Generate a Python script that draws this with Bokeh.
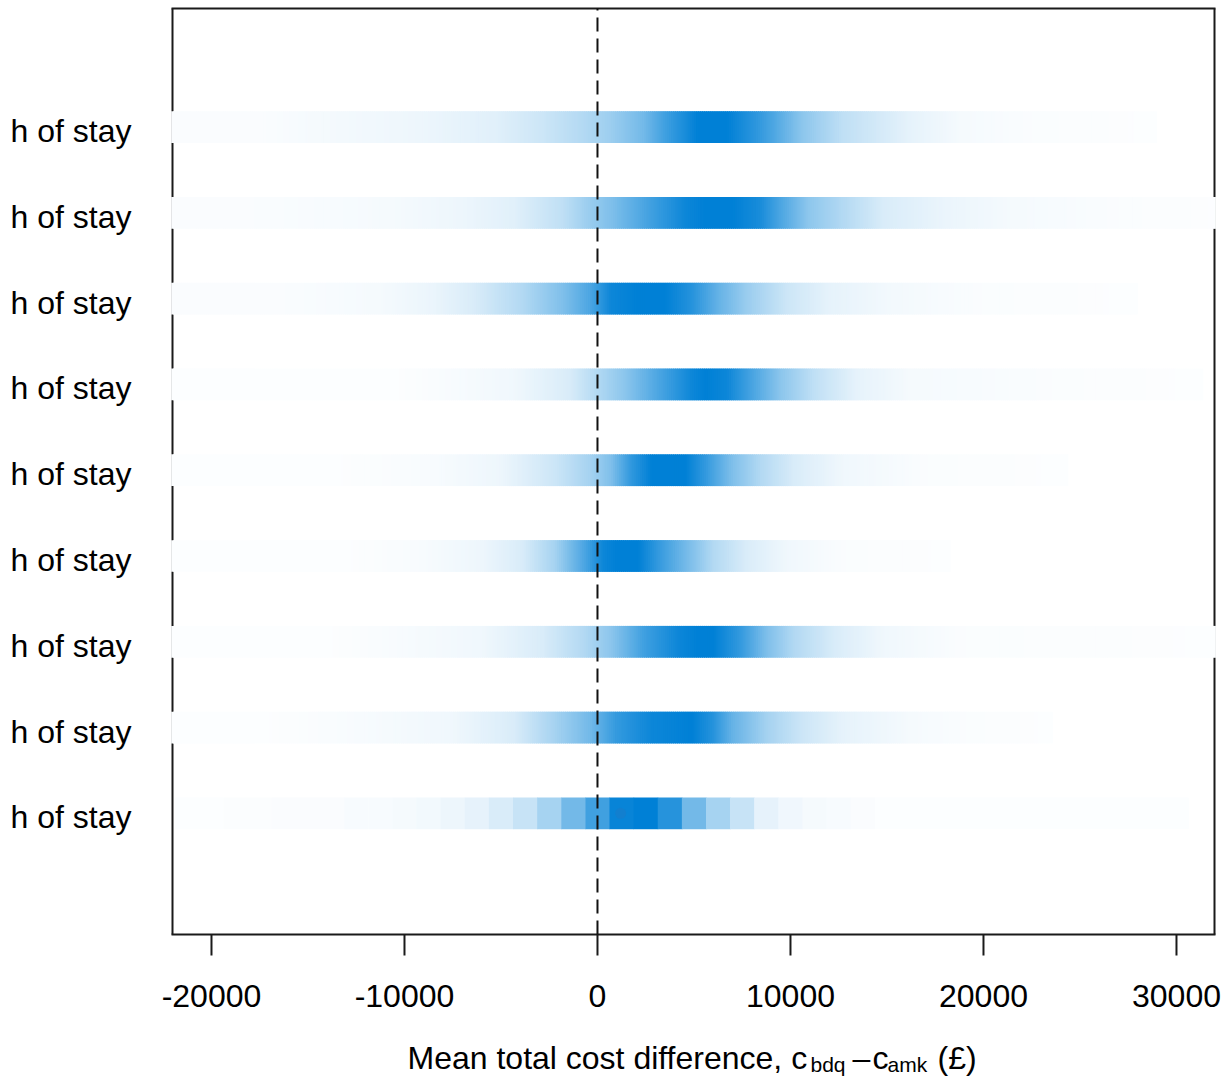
import numpy as np
from bokeh.plotting import figure
from bokeh.models import Range1d, ColumnDataSource
from bokeh.core.properties import value
from bokeh.embed import file_html
from bokeh.resources import INLINE

# ---------------- data ----------------
ROW_LABELS = ["h of stay"] * 9
ROW_POS = [9, 8, 7, 6, 5, 4, 3, 2, 1]          # top to bottom
X_TICKS = [-20000, -10000, 0, 10000, 20000, 30000]
X_TICK_LABELS = ["-20000", "-10000", "0", "10000", "20000", "30000"]

# density strips (top to bottom): cost difference knots (GBP) and relative density
S1_X = [-23000, -17400, -14500, -9200, -5300, -2850, -700, 600, 2400, 3500, 5200, 6700, 8400, 9100, 10600, 12700, 16200, 18800, 22300, 29000]
S1_D = [0.02, 0.02, 0.04, 0.07, 0.12, 0.2, 0.3, 0.38, 0.55, 0.75, 1.0, 1.0, 0.8, 0.7, 0.45, 0.25, 0.1, 0.04, 0.02, 0.01]
S2_X = [-23000, -18400, -10600, -7100, -4300, -1800, -400, 700, 2800, 4550, 5600, 7000, 8450, 9500, 10900, 12700, 14800, 18000, 21500, 26800, 33000]
S2_D = [0.02, 0.02, 0.04, 0.07, 0.12, 0.25, 0.4, 0.5, 0.75, 0.95, 1.0, 1.0, 0.9, 0.7, 0.45, 0.3, 0.15, 0.08, 0.04, 0.02, 0.01]
S3_X = [-23000, -16600, -11300, -8500, -6400, -3900, -1800, -400, 700, 2100, 3500, 4900, 6300, 7700, 9800, 12000, 15100, 19700, 28000]
S3_D = [0.02, 0.02, 0.04, 0.08, 0.15, 0.3, 0.5, 0.7, 0.95, 1.0, 1.0, 0.85, 0.6, 0.4, 0.2, 0.1, 0.05, 0.02, 0.01]
S4_X = [-23000, -10600, -7500, -4300, -1450, 0, 1400, 3150, 4900, 5600, 6700, 8100, 9500, 11200, 13400, 16200, 23300, 31400]
S4_D = [0.01, 0.01, 0.03, 0.06, 0.15, 0.3, 0.45, 0.7, 0.95, 1.0, 0.95, 0.7, 0.45, 0.25, 0.1, 0.04, 0.02, 0.01]
S5_X = [-23000, -13800, -8500, -5000, -2200, -400, 700, 1700, 2800, 4550, 5600, 7000, 8450, 10200, 12700, 16900, 24400]
S5_D = [0.01, 0.01, 0.03, 0.07, 0.2, 0.35, 0.5, 0.8, 1.0, 1.0, 0.8, 0.5, 0.3, 0.15, 0.06, 0.02, 0.01]
S6_X = [-23000, -13100, -9200, -6000, -3900, -2200, -700, 300, 1000, 2100, 3150, 4550, 6000, 7700, 9800, 12700, 18300]
S6_D = [0.01, 0.01, 0.03, 0.07, 0.15, 0.35, 0.7, 0.95, 1.0, 1.0, 0.8, 0.55, 0.3, 0.15, 0.06, 0.02, 0.01]
S7_X = [-23000, -14100, -10300, -6000, -2850, -700, 700, 2400, 4200, 5200, 6000, 7400, 8800, 10200, 12300, 14800, 18700, 33000]
S7_D = [0.01, 0.01, 0.03, 0.06, 0.15, 0.3, 0.45, 0.75, 0.95, 1.0, 1.0, 0.8, 0.5, 0.3, 0.15, 0.06, 0.02, 0.01]
S8_X = [-23000, -17400, -12400, -7500, -4300, -2200, -400, 1000, 2800, 4900, 6000, 7000, 8800, 10600, 12700, 16200, 19000, 23600]
S8_D = [0.01, 0.01, 0.03, 0.06, 0.15, 0.35, 0.55, 0.8, 0.95, 1.0, 0.85, 0.6, 0.35, 0.2, 0.1, 0.04, 0.02, 0.01]

# bottom strip: binned density
S9_EDGE0 = -21878
S9_BINW = 1250
S9_D = [0.01, 0.01, 0.015, 0.015, 0.02, 0.02, 0.02, 0.03, 0.03, 0.04, 0.05, 0.07, 0.1, 0.15,
        0.22, 0.35, 0.55, 0.75, 0.97, 1.0, 0.85, 0.55, 0.35, 0.22, 0.1, 0.06, 0.04, 0.03, 0.02,
        0.01, 0.01, 0.01, 0.01, 0.01, 0.01, 0.01, 0.01, 0.01, 0.01, 0.01, 0.01, 0.01]
S9_MEAN = 1200

# ---------------- layout / styling ----------------
BLUE = (0, 128, 214)
FONT = "Liberation Sans"
INK = "#1a1a1a"
W, H = 1228, 1086
FL, FR, FT, FB = 172, 1214, 8, 934            # plotting box in pixels
X0, X1 = -22020, 31970                         # data limits of the box
Y0, Y1 = -0.412, 10.382
STRIP_H = 0.37
PX_X = (X1 - X0) / (FR - FL)
PX_Y = (Y1 - Y0) / (FB - FT)
XL, XR = X0 - FL * PX_X, X1 + (W - FR) * PX_X
YT, YB = Y1 + FT * PX_Y, Y1 - (H - FT) * PX_Y


def xpx(px):
    return XL + px * PX_X


def ypx(py):
    return YT - py * PX_Y


def shade(t):
    t = max(0.0, min(1.0, float(t)))
    r = round(255 + (BLUE[0] - 255) * t)
    g = round(255 + (BLUE[1] - 255) * t)
    b = round(255 + (BLUE[2] - 255) * t)
    return "#%02x%02x%02x" % (r, g, b)


p = figure(width=W, height=H, output_backend="svg", toolbar_location=None,
           x_range=Range1d(XL, XR), y_range=Range1d(YB, YT),
           x_axis_location=None, y_axis_location=None,
           min_border_left=0, min_border_right=0, min_border_top=0, min_border_bottom=0)
p.background_fill_color = "white"
p.border_fill_color = "white"
p.outline_line_color = None
p.grid.visible = False

# box lines (under the strips, so the strips interrupt the side lines)
p.segment(x0=[X0, X1, X0 - PX_X, X0 - PX_X], y0=[Y0, Y0, Y1, Y0],
          x1=[X0, X1, X1 + PX_X, X1 + PX_X], y1=[Y1, Y1, Y1, Y0],
          line_color=INK, line_width=2)

# density strips
step = 100
lo_clip, hi_clip = X0 - 1.3 * PX_X, X1 + 1.3 * PX_X
strips = [(S1_X, S1_D), (S2_X, S2_D), (S3_X, S3_D), (S4_X, S4_D),
          (S5_X, S5_D), (S6_X, S6_D), (S7_X, S7_D), (S8_X, S8_D)]
L, R, T, B, C = [], [], [], [], []
for (xs, ds), yc in zip(strips, ROW_POS[:8]):
    start, stop = max(xs[0], lo_clip), min(xs[-1], hi_clip)
    for lx in np.arange(start, stop, step):
        rx = min(lx + step * 1.6, stop)
        t = np.interp(lx + step / 2.0, xs, ds)
        L.append(lx); R.append(rx); T.append(yc + STRIP_H / 2); B.append(yc - STRIP_H / 2)
        C.append(shade(t))
for k, d in enumerate(S9_D):
    lx = max(S9_EDGE0 + k * S9_BINW, lo_clip)
    rx = min(S9_EDGE0 + (k + 1) * S9_BINW + 0.5 * PX_X, hi_clip)
    L.append(lx); R.append(rx)
    T.append(ROW_POS[8] + STRIP_H / 2); B.append(ROW_POS[8] - STRIP_H / 2)
    C.append(shade(d))
src = ColumnDataSource(dict(left=L, right=R, top=T, bottom=B, color=C))
p.quad(left="left", right="right", top="top", bottom="bottom", source=src,
       fill_color="color", line_color=None)

p.scatter(x=[S9_MEAN], y=[ROW_POS[8]], size=11, fill_color="#127fcf", line_color=None)

# zero reference line
p.segment(x0=[0], y0=[Y0], x1=[0], y1=[Y1], line_color="#111111", line_width=2, line_dash="14 7")

# x axis: ticks and labels
tick_len = 21 * PX_Y
p.segment(x0=X_TICKS, y0=[Y0] * len(X_TICKS), x1=X_TICKS, y1=[Y0 - tick_len] * len(X_TICKS),
          line_color=INK, line_width=2)
p.text(x=X_TICKS, y=[ypx(995)] * len(X_TICKS), text=X_TICK_LABELS,
       text_font=value(FONT), text_font_size=value("32px"), text_color="black",
       text_align="center", text_baseline="alphabetic")

# row labels
p.text(x=[xpx(131)] * len(ROW_POS), y=[r - 4 * PX_Y for r in ROW_POS], text=ROW_LABELS,
       text_font=value(FONT), text_font_size=value("32px"), text_color="black",
       text_align="right", text_baseline="middle")

# x-axis title with subscripts
y_main = ypx(1057)
y_sub = ypx(1064)
pieces = [("Mean total cost difference, c", 407, y_main, "32px"),
          ("bdq", 810, y_sub, "21px"),
          ("\u2013", 852, y_main, "32px"),
          ("c", 872, y_main, "32px"),
          ("amk", 887, y_sub, "21px"),
          ("(\u00a3)", 937, y_main, "32px")]
for txt, px, yy, fs in pieces:
    p.text(x=[xpx(px)], y=[yy], text=[txt], text_font=value(FONT), text_font_size=value(fs),
           text_color="black", text_align="left", text_baseline="alphabetic")

open("out.html", "w").write(file_html(p, INLINE))
